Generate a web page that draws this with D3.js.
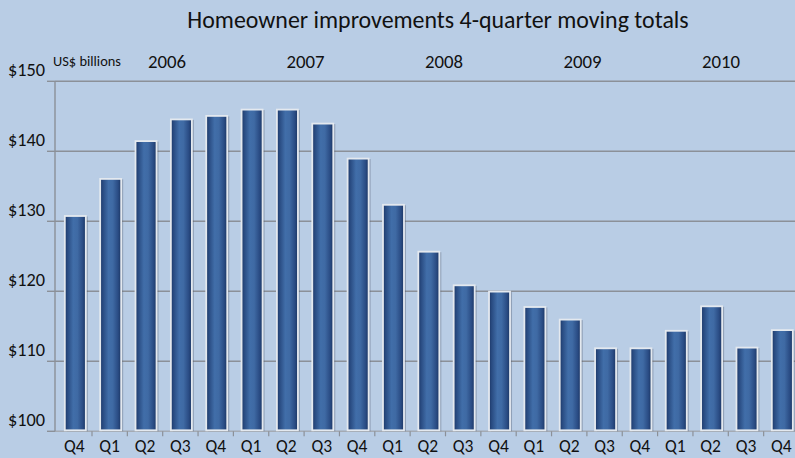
<!DOCTYPE html>
<html>
<head>
<meta charset="utf-8">
<script src="https://cdn.jsdelivr.net/npm/d3@7/dist/d3.min.js"></script>
<style>
html,body{margin:0;padding:0;background:#b9cde5;}
svg{display:block;}
text{font-family:Carlito,Lato,"Open Sans",sans-serif;fill:#111;}
</style>
</head>
<body>
<svg id="chart" width="795" height="458"></svg>
<script>
const periods = ["2005 Q4","2006 Q1","2006 Q2","2006 Q3","2006 Q4","2007 Q1","2007 Q2","2007 Q3","2007 Q4",
  "2008 Q1","2008 Q2","2008 Q3","2008 Q4","2009 Q1","2009 Q2","2009 Q3","2009 Q4","2010 Q1","2010 Q2","2010 Q3","2010 Q4"];
const values = [130.9,136.2,141.6,144.7,145.2,146.1,146.1,144.1,139.1,132.5,125.8,121.0,120.1,117.9,116.1,112.0,112.0,114.5,118.0,112.1,114.6];
const yearLabels = ["2006","2007","2008","2009","2010"];
const yTicks = [100,110,120,130,140,150];
const title = "Homeowner improvements 4-quarter moving totals";
const unitLabel = "US$ billions";

const svg = d3.select("#chart");
const W = 795, H = 458;
svg.append("rect").attr("width",W).attr("height",H).attr("fill","#b9cde5");

const left = 55, yTop = 81.3, yBot = 431.3;
const x = d3.scaleBand().domain(periods).range([56.65, 56.65 + 21*35.35]).paddingInner(0).paddingOuter(0);
const y = d3.scaleLinear().domain([100,150]).range([yBot, yTop]);
const xYear = d3.scalePoint().domain(yearLabels).range([167, 721]);

const defs = svg.append("defs");
const g = defs.append("linearGradient").attr("id","barGrad").attr("x1","0").attr("x2","1").attr("y1","0").attr("y2","0");
[[0,"#1b3564"],[0.12,"#284a80"],[0.4,"#416ea9"],[0.6,"#3f6aa4"],[0.85,"#2a4c84"],[1,"#1a3461"]]
  .forEach(([o,c])=>g.append("stop").attr("offset",o).attr("stop-color",c));

// gridlines
const grid = svg.append("g");
grid.selectAll("line").data(yTicks).join("line")
  .attr("x1",left).attr("x2",W).attr("y1",d=>y(d)).attr("y2",d=>y(d))
  .attr("stroke",d=>d===100?"#a4aab3":"#8b9098").attr("stroke-width",1.6);

// y axis line and ticks
svg.append("line").attr("x1",left).attr("x2",left).attr("y1",y(150)).attr("y2",y(100))
  .attr("stroke","#8b9098").attr("stroke-width",1.4);
svg.append("g").selectAll("line").data(yTicks).join("line")
  .attr("x1",47).attr("x2",left).attr("y1",d=>y(d)).attr("y2",d=>y(d))
  .attr("stroke","#8b9098").attr("stroke-width",1.4);
svg.append("g").selectAll("text").data(yTicks).join("text")
  .attr("x",45).attr("y",d=>y(d)-12).attr("dy","0.35em").attr("text-anchor","end")
  .attr("font-size",18.3).text(d=>"$"+d);

// x ticks at category boundaries
svg.append("g").selectAll("line").data(periods.slice(1)).join("line")
  .attr("x1",d=>x(d)).attr("x2",d=>x(d)).attr("y1",yBot).attr("y2",yBot+5)
  .attr("stroke","#8b9098").attr("stroke-width",1.2);

// bars
const bw = 21;
const bars = svg.append("g");
const cx = d => x(d) + x.bandwidth()/2 + 1;
bars.selectAll("rect.shadow").data(periods).join("rect").attr("class","shadow")
  .attr("x",d=>cx(d)-bw/2+2).attr("y",(d,i)=>y(values[i])+1.5)
  .attr("width",bw).attr("height",(d,i)=>yBot-y(values[i])-1.5)
  .attr("fill","rgba(70,80,100,0.35)");
bars.selectAll("rect.bar").data(periods).join("rect").attr("class","bar")
  .attr("x",d=>cx(d)-bw/2).attr("y",(d,i)=>y(values[i])+1)
  .attr("width",bw).attr("height",(d,i)=>yBot-y(values[i])-2)
  .attr("fill","url(#barGrad)").attr("stroke","#e4e9ef").attr("stroke-width",1.8);

// quarter labels
svg.append("g").selectAll("text").data(periods).join("text")
  .attr("x",d=>cx(d)-1).attr("y",446).attr("dy","0.35em").attr("text-anchor","middle")
  .attr("font-size",17.5).text(d=>d.split(" ")[1]);

// year labels
svg.append("g").selectAll("text").data(yearLabels).join("text")
  .attr("x",d=>xYear(d)).attr("y",61).attr("dy","0.35em").attr("text-anchor","middle")
  .attr("font-size",18.8).text(d=>d);

svg.append("text").attr("x",53).attr("y",61).attr("dy","0.35em").attr("font-size",14.4).text(unitLabel);
svg.append("text").attr("x",438).attr("y",20).attr("dy","0.35em").attr("text-anchor","middle")
  .attr("font-size",23.9).text(title);
</script>
</body>
</html>
